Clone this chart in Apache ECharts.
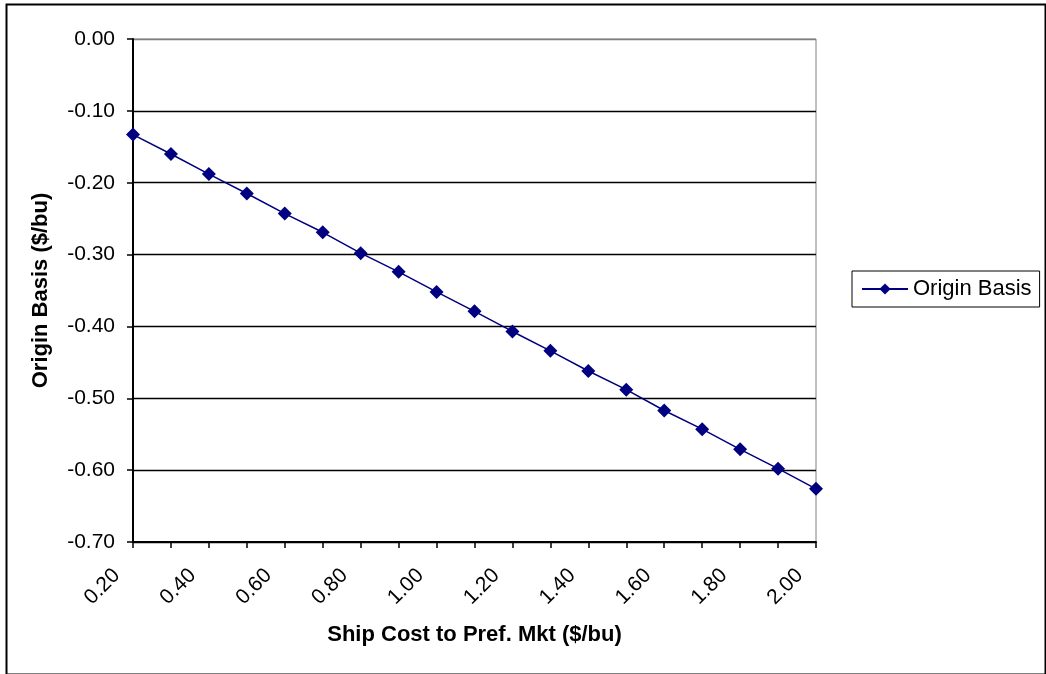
<!DOCTYPE html>
<html>
<head>
<meta charset="utf-8">
<script src="https://cdn.jsdelivr.net/npm/echarts@6/dist/echarts.min.js"></script>
<style>
html,body{margin:0;padding:0;background:#fff;}
#chart{width:1046px;height:674px;}
</style>
</head>
<body>
<div id="chart"></div>
<script>
const categories = ['0.20','0.30','0.40','0.50','0.60','0.70','0.80','0.90','1.00','1.10','1.20','1.30','1.40','1.50','1.60','1.70','1.80','1.90','2.00'];
const originBasis = [-0.133,-0.160,-0.188,-0.215,-0.243,-0.269,-0.298,-0.324,-0.352,-0.379,-0.407,-0.434,-0.462,-0.488,-0.517,-0.543,-0.571,-0.598,-0.626];
const seriesName = 'Origin Basis';
const xTitle = 'Ship Cost to Pref. Mkt ($/bu)';
const yTitle = 'Origin Basis ($/bu)';

const chart = echarts.init(document.getElementById('chart'));
const font = 'Liberation Sans, Arial, sans-serif';
chart.setOption({
  backgroundColor: '#fff',
  animation: false,
  graphic: [{
    type: 'rect', left: 4, top: 2, z: 100,
    shape: {x: 0, y: 0, width: 1039, height: 670},
    style: {fill: 'none', stroke: '#000', lineWidth: 2}
  }],
  grid: {left: 133, right: 230, top: 39, bottom: 132, show: true, borderColor: '#808080', borderWidth: 1, backgroundColor: '#fff'},
  legend: {
    left: 852, top: 271,
    padding: [7, 8, 7, 9],
    borderColor: '#000', borderWidth: 1,
    itemWidth: 46, itemHeight: 14,
    textStyle: {fontFamily: font, fontSize: 22, color: '#000'},
    data: [seriesName]
  },
  xAxis: {
    type: 'category',
    data: categories,
    boundaryGap: false,
    name: xTitle,
    nameLocation: 'middle',
    nameGap: 82,
    nameTextStyle: {fontFamily: font, fontSize: 22, fontWeight: 'bold', color: '#000'},
    axisLine: {onZero: false, lineStyle: {color: '#000', width: 2}},
    axisTick: {interval: 0, length: 6, lineStyle: {color: '#000', width: 1.5}},
    axisLabel: {interval: 1, rotate: 45, margin: 14, padding: [0, 23, 0, 0], fontFamily: font, fontSize: 21, color: '#000'},
    splitLine: {show: false}
  },
  yAxis: {
    type: 'value',
    min: -0.7, max: 0, interval: 0.1,
    name: yTitle,
    nameLocation: 'middle',
    nameRotate: 90,
    nameGap: 81,
    nameTextStyle: {fontFamily: font, fontSize: 22, fontWeight: 'bold', color: '#000'},
    axisLine: {show: true, onZero: false, lineStyle: {color: '#000', width: 2}},
    axisTick: {show: true, length: 6, lineStyle: {color: '#000', width: 1.5}},
    axisLabel: {margin: 18, fontFamily: font, fontSize: 21, color: '#000', formatter: v => v.toFixed(2)},
    splitLine: {show: true, lineStyle: {color: ['#000','#000','#000','#000','#000','#000','#000','#808080'], width: 1.3}}
  },
  series: [{
    name: seriesName,
    type: 'line',
    data: originBasis,
    symbol: 'diamond',
    symbolSize: 14,
    itemStyle: {color: '#000080'},
    lineStyle: {color: '#000080', width: 1.5}
  }]
});
</script>
</body>
</html>
